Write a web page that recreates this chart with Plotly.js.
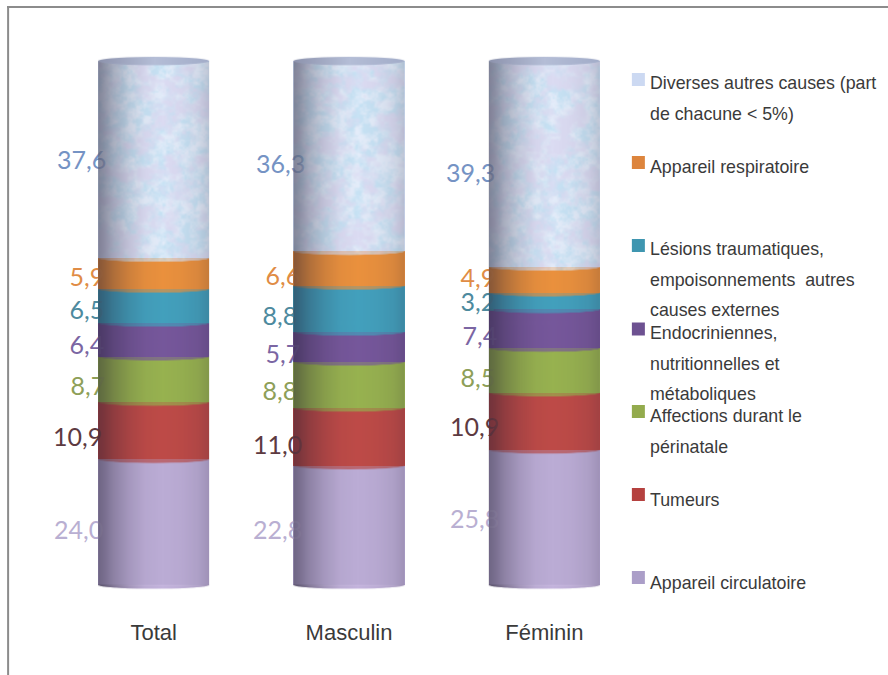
<!DOCTYPE html>
<html>
<head>
<meta charset="utf-8">
<script src="https://cdn.plot.ly/plotly-3.0.1.min.js"></script>
<style>html,body{margin:0;padding:0;background:#fff}#chart{width:888px;height:675px}</style>
</head>
<body>
<div id="chart"></div>
<script>
// ---- data ----
const categories = ["Total", "Masculin", "Féminin"];
const circulatoire  = [24.0, 22.8, 25.8];
const tumeurs       = [10.9, 11.0, 10.9];
const perinatale    = [8.7, 8.8, 8.5];
const endocriniennes= [6.4, 5.7, 7.4];
const lesions       = [6.5, 8.8, 3.2];
const respiratoire  = [5.9, 6.6, 4.9];
const diverses      = [37.6, 36.3, 39.3];
const seriesValues = [circulatoire, tumeurs, perinatale, endocriniennes, lesions, respiratoire, diverses];
const seriesNames = [
  "Appareil circulatoire", "Tumeurs", "Affections durant le périnatale",
  "Endocriniennes, nutritionnelles et métaboliques",
  "Lésions traumatiques, empoisonnements  autres causes externes",
  "Appareil respiratoire", "Diverses autres causes (part de chacune < 5%)"
];
// ---- style ----
const legendLines = [
  ["Appareil circulatoire"], ["Tumeurs"], ["Affections durant le", "périnatale"],
  ["Endocriniennes,", "nutritionnelles et", "métaboliques"],
  ["Lésions traumatiques,", "empoisonnements  autres", "causes externes"],
  ["Appareil respiratoire"], ["Diverses autres causes (part", "de chacune < 5%)"]
];
const swatchColors = ["#ab9ec8", "#b5413f", "#93ab4d", "#6d5191", "#3f96b0", "#dd853d", "#ccd9f2"];
const litColors    = ["#c3b3dc", "#c24f4c", "#9ab552", "#7a5a9f", "#45a5c2", "#f0963f", "#dbe8f8"];
const labelColors  = ["#b9afd2", "#5d3a41", "#8e9f58", "#7b66a3", "#4d8a9e", "#e08c45", "#7593c4"];
const legendSwatchY = [577.5, 494.5, 411.5, 329, 245.5, 162.5, 79.5];
const legendLineY = [[583], [500], [416, 447], [333, 364, 394], [249, 280, 310], [167], [83, 114]];
// placement of every value label in pixels: one row per category, one entry per series
const labelRight = [
  [103, 102, 105, 104, 104, 104, 106],
  [302, 302, 297, 300, 297, 300, 305],
  [499, 499, 495, 497, 495, 495, 495]
];
const labelDrop = [
  [10.5, 9.5, 9.5, 7.5, 6.5, 6.5, 3.5],
  [7.5, 11.5, 8.5, 9.5, 9.5, 10.5, 10.5],
  [4.5, 8.5, 10.5, 9.5, 3.5, 0.5, 11.5]
];
const W = 888, H = 675;
const plotL = 55.875, plotW = 585.75, plotT = 30, plotB = 617;
const unitX = plotW / 3, barWidth = 111 / unitX;
const yZero = 585, pxPerUnit = 5.24;
const yRange = [(yZero - plotB) / pxPerUnit, (yZero - plotT) / pxPerUnit];
const paperX = px => (px - plotL) / plotW;
const paperY = py => 1 - (py - plotT) / (plotB - plotT);
const capPx = 4.2;
const xIdx = categories.map((_, i) => i);

// ---- traces: bars, then value labels ----
const traces = seriesValues.map((vals, s) => ({
  type: "bar", name: seriesNames[s], x: xIdx, y: vals, width: barWidth,
  marker: {color: swatchColors[s], line: {width: 0}}, hoverinfo: "name+y"
}));
seriesValues.forEach((vals, s) => {
  const mids = vals.map((v, c) => {
    let base = 0;
    for (let k = 0; k < s; k++) base += seriesValues[k][c];
    return base + v / 2 - labelDrop[c][s] / pxPerUnit;
  });
  traces.push({
    type: "scatter", mode: "text", showlegend: false, hoverinfo: "skip",
    x: xIdx.map(c => (labelRight[c][s] - plotL) / unitX - 0.5),
    y: mids, text: vals.map(v => v.toFixed(1).replace(".", ",")),
    textposition: "middle left", cliponaxis: false,
    textfont: {family: "Lato, Carlito, sans-serif", size: 25, color: labelColors[s]}
  });
});

// ---- procedural mottling for the top section ----
function hash(x, y) { const v = Math.sin(x * 127.1 + y * 311.7) * 43758.5453; return v - Math.floor(v); }
function vnoise(x, y) {
  const xi = Math.floor(x), yi = Math.floor(y), fx = x - xi, fy = y - yi;
  const u = fx * fx * (3 - 2 * fx), v = fy * fy * (3 - 2 * fy);
  const a = hash(xi, yi), b = hash(xi + 1, yi), c = hash(xi, yi + 1), d = hash(xi + 1, yi + 1);
  return a + (b - a) * u + (c - a) * v + (a - b - c + d) * u * v;
}
function fbm(x, y) { return 0.5 * vnoise(x, y) + 0.3 * vnoise(x * 2.1 + 5, y * 2.1 + 9) + 0.2 * vnoise(x * 4.3 + 1, y * 4.3 + 3); }
function mottled(w, h, seed) {
  const cv = document.createElement("canvas"); cv.width = w; cv.height = h;
  const g = cv.getContext("2d"), im = g.createImageData(w, h);
  for (let y = 0; y < h; y++) for (let x = 0; x < w; x++) {
    const a = Math.min(1, Math.max(0, (fbm(x / 16 + seed * 7, y / 16 + seed) - 0.3) * 2.6));
    const b = Math.min(1, Math.max(0, (fbm(x / 30 + 40 + seed, y / 26 + 17 * seed) - 0.26) * 3.2));
    const r = 238 * a + 196 * (1 - a), gg = 245 * a + 230 * (1 - a), bb = 253 * a + 245 * (1 - a);
    const i = (y * w + x) * 4;
    im.data[i]   = r * b + 226 * (1 - b);
    im.data[i+1] = gg * b + 220 * (1 - b);
    im.data[i+2] = bb * b + 242 * (1 - b);
    im.data[i+3] = 255;
  }
  g.putImageData(im, 0, 0);
  return cv;
}

// ---- overlay that rounds and shades each bar; built from the same values ----
function cylinderImage(c) {
  const S = 2, wPx = 111 * S, yTopVal = 100 + capPx / pxPerUnit, yBotVal = -capPx / pxPerUnit;
  const hPx = Math.round((yTopVal - yBotVal) * pxPerUnit * S);
  const vy = v => (yTopVal - v) * pxPerUnit * S;
  const rx = wPx / 2, ry = capPx * S;
  const off = document.createElement("canvas"); off.width = wPx; off.height = hPx;
  const g = off.getContext("2d");
  const region = (top, bottom) => {
    g.beginPath(); g.moveTo(0, top); g.lineTo(wPx, top); g.lineTo(wPx, bottom);
    g.ellipse(rx, bottom, rx, ry * 0.9, 0, 0, Math.PI); g.closePath();
  };
  let cum = 0;
  const bounds = seriesValues.map(v => { cum += v[c]; return cum; });
  for (let s = 0; s < seriesValues.length; s++) {
    const lo = s ? bounds[s - 1] : 0;
    region(vy(bounds[s]), vy(lo));
    if (s === seriesValues.length - 1) {
      g.save(); g.clip();
      g.drawImage(mottled(wPx, hPx, c + 1), 0, 0);
      g.restore();
    } else { g.fillStyle = litColors[s]; g.fill(); }
  }
  // cylinder shading
  const sh = g.createLinearGradient(0, 0, wPx, 0);
  [[0, .7], [.05, .62], [.14, .42], [.28, .2], [.42, .05], [.58, 0], [.75, .04], [.9, .12], [1, .26]]
    .forEach(([p, a]) => sh.addColorStop(p, "rgba(35,30,50," + a + ")"));
  g.globalCompositeOperation = "source-atop";
  g.fillStyle = sh; g.fillRect(0, 0, wPx, hPx);
  g.globalCompositeOperation = "source-over";

  const out = document.createElement("canvas"); out.width = wPx; out.height = hPx;
  const o = out.getContext("2d");
  // over the bar the paint lets the value labels glimmer through; past its ends it is solid
  o.globalAlpha = 0.68; o.drawImage(off, 0, 0);
  o.globalAlpha = 1;
  const y100 = Math.round(vy(100)), y0 = Math.round(vy(0));
  o.drawImage(off, 0, 0, wPx, y100, 0, 0, wPx, y100);
  o.drawImage(off, 0, y0, wPx, hPx - y0, 0, y0, wPx, hPx - y0);
  // top cap
  const cap = o.createLinearGradient(0, 0, wPx, 0);
  cap.addColorStop(0, "#8d93ad"); cap.addColorStop(.5, "#b4bdd6"); cap.addColorStop(1, "#a2acc8");
  o.fillStyle = cap; o.beginPath(); o.ellipse(rx, vy(100), rx, ry, 0, 0, 2 * Math.PI); o.fill();
  return {
    source: out.toDataURL("image/png"), xref: "x", yref: "y", layer: "above",
    x: c - barWidth / 2, sizex: barWidth, y: yTopVal, sizey: yTopVal - yBotVal,
    xanchor: "left", yanchor: "top", sizing: "stretch", opacity: 1
  };
}

// ---- legend + frame ----
const annotations = [], shapes = [];
seriesNames.forEach((_, s) => {
  shapes.push({type: "rect", xref: "paper", yref: "paper", line: {width: 0}, fillcolor: swatchColors[s],
    x0: paperX(631.5), x1: paperX(644.5), y0: paperY(legendSwatchY[s] + 6.5), y1: paperY(legendSwatchY[s] - 6.5)});
  legendLines[s].forEach((line, k) => annotations.push({
    text: line, xref: "paper", yref: "paper", x: paperX(648), y: paperY(legendLineY[s][k]),
    xanchor: "left", yanchor: "middle", showarrow: false, align: "left",
    font: {family: "Liberation Sans, Arial, sans-serif", size: 17.8, color: "#3a3a3a"}
  }));
});
shapes.push({type: "line", xref: "paper", yref: "paper", x0: paperX(7), x1: paperX(888), y0: paperY(7), y1: paperY(7), line: {color: "#8c8c8c", width: 2}});
shapes.push({type: "line", xref: "paper", yref: "paper", x0: paperX(8), x1: paperX(8), y0: paperY(6), y1: paperY(675), line: {color: "#8c8c8c", width: 2}});

Plotly.newPlot("chart", traces, {
  width: W, height: H, autosize: false, showlegend: false, barmode: "stack",
  paper_bgcolor: "#ffffff", plot_bgcolor: "rgba(0,0,0,0)",
  margin: {l: plotL, r: W - plotL - plotW, t: plotT, b: H - plotB, pad: 0},
  xaxis: {type: "linear", range: [-0.5, 2.5], tickmode: "array", tickvals: xIdx, ticktext: categories,
    showgrid: false, zeroline: false, showline: false, ticks: "",
    tickfont: {family: "Liberation Sans, Arial, sans-serif", size: 22, color: "#3a3a3a"}},
  yaxis: {range: yRange, visible: false, showgrid: false, zeroline: false},
  images: categories.map((_, c) => cylinderImage(c)),
  shapes, annotations, hovermode: "closest"
}, {displayModeBar: false, responsive: false});
</script>
</body>
</html>
